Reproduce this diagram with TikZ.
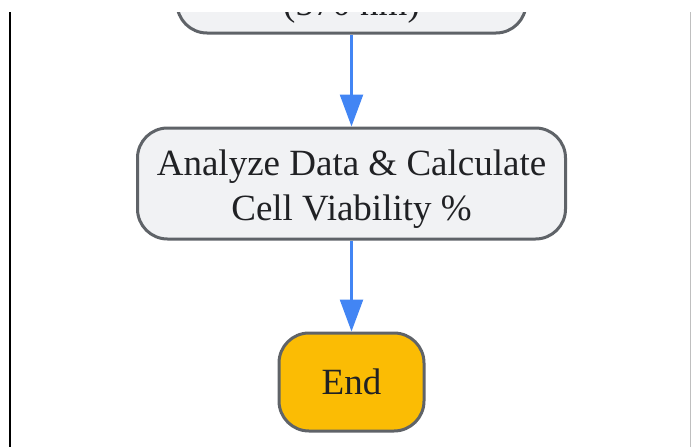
\documentclass[tikz,border=0pt]{standalone}
\usepackage{fontspec}
\setmainfont{Liberation Serif}
\usetikzlibrary{arrows.meta,calc}
\definecolor{boxgray}{HTML}{F1F2F4}
\definecolor{linegray}{HTML}{5F6368}
\definecolor{flowblue}{HTML}{4285F4}
\definecolor{endyellow}{HTML}{FBBC04}
\definecolor{txt}{HTML}{202124}

\begin{document}
\begin{tikzpicture}[x=1pt,y=-1pt,
    >={Triangle[length=32pt,width=23pt]},
    flow/.style={->,draw=flowblue,line width=2.5pt},
    box/.style={draw=linegray,line width=3pt,fill=boxgray,rounded corners=30pt,
      text=txt,align=center,font=\fontsize{37}{45}\selectfont},
    endbox/.style={box,fill=endyellow}]
  \useasboundingbox (0,0) rectangle (692,447);
  \begin{scope}
    \clip (0,12) rectangle (692,447);
    \node[box,minimum width=349pt,minimum height=111pt] (absorb) at (351.5,-22.5) {};
    \node[text=txt,font=\fontsize{37}{45}\selectfont,anchor=base] (absorbtxt)
      at ([yshift=19pt]absorb.south) {(570 nm)};
  \end{scope}
  \node[box,minimum width=428pt,minimum height=111pt] (analyze) at (351.5,183.5)
    {\rule{0pt}{36pt}Analyze Data \& Calculate\\Cell Viability \%};
  \node[endbox,minimum width=145pt,minimum height=98pt] (end) at (351.5,382) {End};

  \draw[flow] (absorb.south) -- (analyze.north);
  \draw[flow] (analyze.south) -- (end.north);

  % frame edges
  \coordinate (lt) at (10,12);
  \coordinate (lb) at (10,447);
  \coordinate (rt) at (690,12);
  \coordinate (rb) at (690,447);
  \draw[line width=2pt,black] (lt) -- (lb);
  \draw[line width=1pt,black!25] (rt) -- (rb);
\end{tikzpicture}
\end{document}
